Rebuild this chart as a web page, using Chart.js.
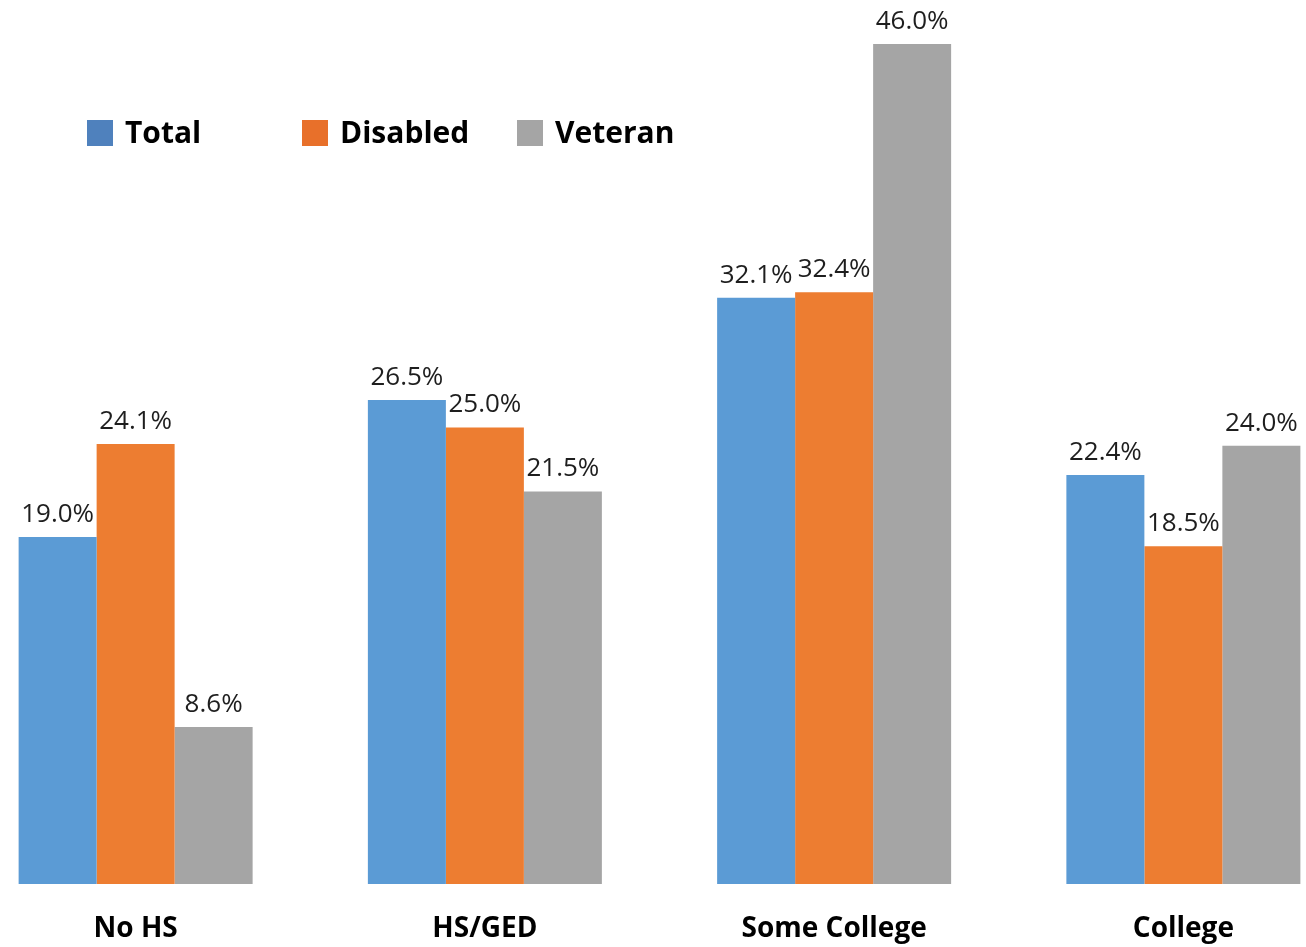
<!DOCTYPE html>
<html>
<head>
<meta charset="utf-8">
<script src="https://cdn.jsdelivr.net/npm/chart.js@4/dist/chart.umd.min.js"></script>
<style>
  html, body { margin: 0; padding: 0; background: #fff; overflow: hidden; }
  #wrap { position: absolute; left: -39px; top: 0; }
</style>
</head>
<body>
<div id="wrap"><canvas id="eduChart" width="1397" height="947"></canvas></div>
<script>
const categories = ["No HS", "HS/GED", "Some College", "College"];
const seriesNames = ["Total", "Disabled", "Veteran"];
const totalValues = [19.0, 26.5, 32.1, 22.4];
const disabledValues = [24.1, 25.0, 32.4, 18.5];
const veteranValues = [8.6, 21.5, 46.0, 24.0];

const barColors = ["#5B9BD5", "#ED7D31", "#A5A5A5"];
const legendColors = ["#4F81BD", "#E8702A", "#A5A5A5"];

const ctx = document.getElementById("eduChart");

const data = {
  labels: categories,
  datasets: [
    { label: seriesNames[0], data: totalValues, backgroundColor: barColors[0] },
    { label: seriesNames[1], data: disabledValues, backgroundColor: barColors[1] },
    { label: seriesNames[2], data: veteranValues, backgroundColor: barColors[2] },
  ],
};

// value labels above each bar
const valueLabels = {
  id: 'valueLabels',
  afterDatasetsDraw(chart) {
    const { ctx } = chart;
    ctx.save();
    ctx.font = '26px "Open Sans"';
    ctx.fillStyle = '#1e1e1e';
    ctx.textAlign = 'center';
    ctx.textBaseline = 'alphabetic';
    chart.data.datasets.forEach((ds, i) => {
      chart.getDatasetMeta(i).data.forEach((bar, j) => {
        ctx.fillText(ds.data[j].toFixed(1) + '%', bar.x, bar.y - 15);
      });
    });
    ctx.restore();
  }
};

// legend drawn inside the plot, top left
const insideLegend = {
  id: 'insideLegend',
  afterDraw(chart) {
    const { ctx, chartArea: { left } } = chart;
    const startX = left + 126;
    const colW = 215;
    const yMid = 133;
    const box = 26;
    ctx.save();
    ctx.font = 'bold 30px "Open Sans"';
    ctx.textBaseline = 'middle';
    ctx.textAlign = 'left';
    chart.data.datasets.forEach((ds, i) => {
      const x = startX + i * colW;
      ctx.fillStyle = legendColors[i];
      ctx.fillRect(x, yMid - box / 2, box, box);
      ctx.fillStyle = '#000';
      ctx.fillText(ds.label, x + box + 12, yMid + 1);
    });
    ctx.restore();
  }
};

const myChart = new Chart(ctx, {
  type: "bar",
  data: data,
  plugins: [valueLabels, insideLegend],
  options: {
    responsive: false,
    animation: false,
    layout: { padding: { top: 44, left: 0, right: 0, bottom: 0 } },
    datasets: {
      bar: { categoryPercentage: 0.67, barPercentage: 1.0, borderWidth: 0 }
    },
    plugins: {
      legend: { display: false },
      tooltip: { enabled: false },
    },
    scales: {
      x: {
        grid: { display: false, drawTicks: false },
        border: { display: false },
        ticks: {
          color: '#000',
          padding: 28,
          font: { family: '"Open Sans"', size: 28, weight: 'bold' },
        },
        afterFit(scale) { scale.height = 63; }
      },
      y: {
        display: false,
        min: 0,
        max: 46,
      },
    },
  },
});
</script>
</body>
</html>
